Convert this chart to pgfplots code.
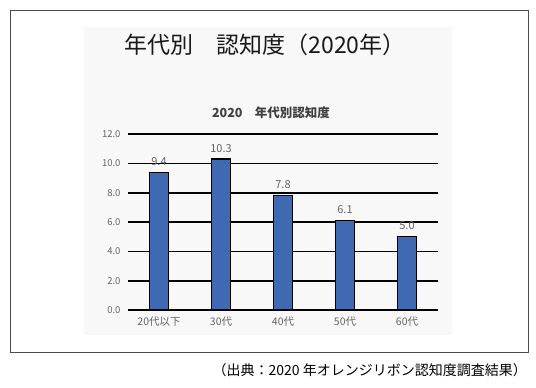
\documentclass[border=0pt]{standalone}
\usepackage{pgfplots}
\pgfplotsset{compat=1.18}
\usepackage{fontspec}
\setmainfont{Noto Sans CJK JP}
\definecolor{barblue}{RGB}{63,105,176}
\definecolor{lblgray}{RGB}{100,100,100}
\definecolor{panel}{RGB}{248,248,248}
\begin{document}
\begin{tikzpicture}[x=1pt,y=1pt]
\path[use as bounding box] (0,0) rectangle (536,388);
\draw[black!70, line width=0.9pt] (10,36) rectangle (528,378);
\fill[panel] (84,53) rectangle (452,361);
\node[font=\fontsize{23}{26}\selectfont, text=black!90, inner sep=0pt] at (265,343) {年代別　認知度（2020年）};
\node[font=\fontsize{12.5}{14}\selectfont\bfseries, text=black!75, inner sep=0pt] at (271,275) {2020　年代別認知度};
\node[anchor=east, font=\fontsize{14}{16}\selectfont, inner sep=0pt] at (527,18) {（出典：2020 年オレンジリボン認知度調査結果）};
\begin{axis}[
  at={(128pt,78pt)}, anchor=south west,
  scale only axis, width=310pt, height=175.7pt,
  xmin=-0.5, xmax=4.5, ymin=0, ymax=12,
  axis line style={draw=none},
  ymajorgrids, grid style={black, line width=1.6pt},
  ytick={0,2,...,12},
  /pgf/number format/fixed,
  /pgf/number format/fixed zerofill,
  /pgf/number format/precision=1,
  /pgf/number format/assume math mode=true,
  yticklabel style={font=\fontsize{9.5}{10}\selectfont, text=lblgray, xshift=-4pt},
  xtick={0,...,4},
  xticklabels={20代以下,30代,40代,50代,60代},
  xticklabel style={font=\fontsize{10.5}{12}\selectfont, text=lblgray, yshift=-3pt},
  major tick length=0pt,
  ybar, bar width=19pt,
  nodes near coords,
  nodes near coords style={font=\fontsize{11}{12}\selectfont, text=lblgray, yshift=3pt},
  clip=false,
]
\addplot[fill=barblue, draw=black, line width=1.4pt] coordinates {(0,9.4) (1,10.3) (2,7.8) (3,6.1) (4,5.0)};
\end{axis}
\end{tikzpicture}
\end{document}
